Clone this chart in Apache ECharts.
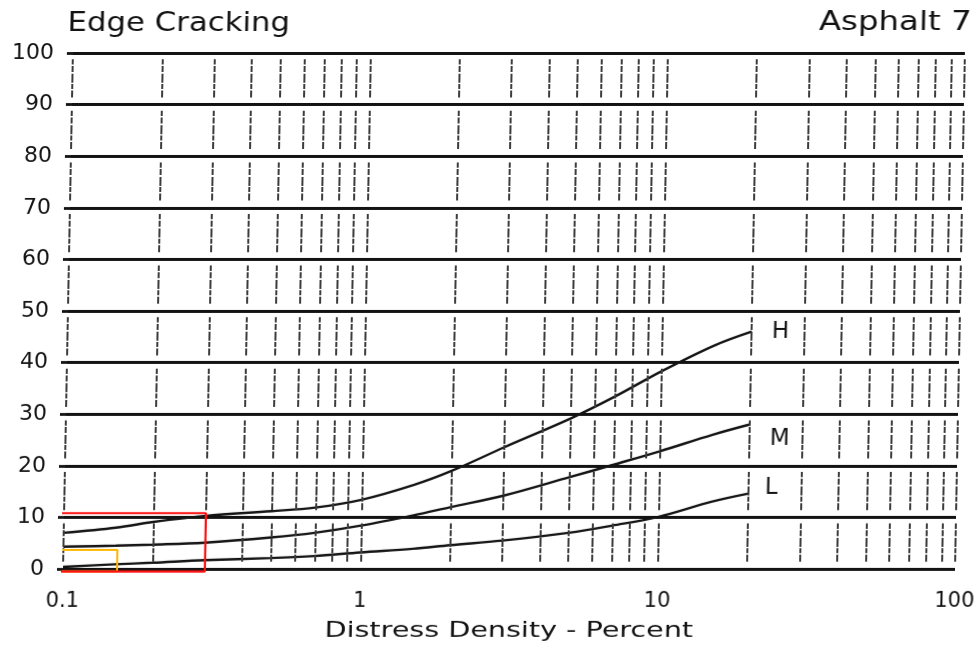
<!DOCTYPE html>
<html>
<head>
<meta charset="utf-8">
<title>Edge Cracking - Asphalt 7</title>
<script src="https://cdn.jsdelivr.net/npm/echarts@6/dist/echarts.min.js"></script>
<style>
  html, body { margin: 0; padding: 0; background: #ffffff; }
  #chart {
    width: 979px;
    height: 650px;
    /* the printed chart sheet leans slightly to the right */
    transform: skewX(-1.1deg);
    transform-origin: 0 569px;
  }
</style>
</head>
<body>
<div id="chart"></div>
<script>
// Distress density (percent) at which each curve is sampled
const density = [0.1, 0.15, 0.2, 0.3, 0.5, 0.7, 1, 1.5, 2, 3, 5, 7, 10, 15, 20];

// Deduct values for each severity level
const deductH = [7.0, 8.0, 9.1, 10.3, 11.2, 11.9, 13.4, 16.3, 19.0, 23.6, 29.2, 33.4, 38.3, 43.3, 46.0];
const deductM = [4.3, 4.5, 4.7, 5.1, 6.1, 7.0, 8.4, 10.4, 12.0, 14.2, 17.8, 20.2, 22.8, 26.0, 28.0];
const deductL = [0.4, 0.9, 1.2, 1.7, 2.1, 2.5, 3.2, 3.9, 4.6, 5.5, 7.0, 8.4, 10.1, 13.0, 14.6];

// Severity labels drawn at the end of each curve
const severityNames = ['H', 'M', 'L'];

// Log-cycle rulings of the density axis
const densityRulings = [
  0.1, 0.2, 0.3, 0.4, 0.5, 0.6, 0.7, 0.8, 0.9,
  1, 2, 3, 4, 5, 6, 7, 8, 9,
  10, 20, 30, 40, 50, 60, 70, 80, 90,
  100
];

// Deduct value bands between the heavy horizontal rules
const bandStarts = [0, 10, 20, 30, 40, 50, 60, 70, 80, 90];

// Axis tick labels
const xTickLabels = ['0.1', '1', '10', '100'];
const yTickLabels = ['0', '10', '20', '30', '40', '50', '60', '70', '80', '90', '100'];

// Highlight frames around the low-density corner
const redFrameX = [0.097, 0.3];
const redFrameY = [-0.5, 10.8];
const orangeFrameX = [0.0905, 0.152];
const orangeFrameY = [-0.5, 3.7];

const FONT = '"DejaVu Sans", "Liberation Sans", sans-serif';
const INK = '#131313';

const GRID = { left: 63, right: 24, top: 53, bottom: 81 };

function pairs(xs, ys) {
  return xs.map((x, i) => [x, ys[i]]);
}

function frame(xs, ys) {
  return [
    [xs[0], ys[0]], [xs[1], ys[0]], [xs[1], ys[1]], [xs[0], ys[1]], [xs[0], ys[0]]
  ];
}

// Each ruling is broken at the heavy deduct rules: one run per band
function rulingSegments() {
  const segs = [];
  densityRulings.forEach(x => {
    bandStarts.forEach(b => {
      segs.push([{ coord: [x, b + 1.4] }, { coord: [x, b + 8.8] }]);
    });
  });
  return segs;
}

function curve(name, values, offset) {
  return {
    name: name,
    type: 'line',
    data: pairs(density, values),
    smooth: 0.35,
    symbol: 'none',
    clip: false,
    z: 3,
    lineStyle: { color: INK, width: 2.4 },
    endLabel: {
      show: true,
      formatter: '{a}',
      distance: 5,
      offset: offset,
      color: INK,
      fontFamily: FONT,
      fontSize: 23,
      fontWeight: 'normal'
    }
  };
}

const chart = echarts.init(document.getElementById('chart'), null, { renderer: 'canvas' });

chart.setOption({
  animation: false,
  backgroundColor: '#ffffff',
  grid: Object.assign({ containLabel: false, outerBoundsMode: 'none' }, GRID),
  xAxis: {
    type: 'log',
    logBase: 10,
    min: 0.1,
    max: 100,
    axisLine: { show: false },
    axisTick: { show: false },
    splitLine: { show: false },
    minorSplitLine: { show: false },
    axisLabel: {
      margin: 22,
      color: INK,
      fontFamily: FONT,
      fontSize: 21,
      formatter: function (v) {
        const idx = Math.round(Math.log10(v)) + 1;
        return xTickLabels[idx];
      }
    }
  },
  yAxis: {
    type: 'value',
    min: 0,
    max: 100,
    interval: 10,
    axisLine: { show: false },
    axisTick: { show: true, length: 6, lineStyle: { color: INK, width: 2.8 } },
    splitLine: { show: true, lineStyle: { color: INK, width: 2.8 } },
    axisLabel: {
      margin: 19,
      color: INK,
      fontFamily: FONT,
      fontSize: 22,
      formatter: function (v) {
        return yTickLabels[Math.round(v / 10)];
      }
    }
  },
  graphic: [
    {
      type: 'text',
      x: 57, y: 24, scaleX: 1.14,
      silent: true,
      style: {
        text: 'Edge Cracking',
        fill: INK,
        font: 'normal 27px ' + FONT,
        textAlign: 'left',
        textVerticalAlign: 'middle'
      }
    },
    {
      type: 'text',
      x: 961, y: 23, scaleX: 1.2,
      silent: true,
      style: {
        text: 'Asphalt 7',
        fill: INK,
        font: 'normal 27px ' + FONT,
        textAlign: 'right',
        textVerticalAlign: 'middle'
      }
    },
    {
      type: 'text',
      x: 510, y: 631, scaleX: 1.3,
      silent: true,
      style: {
        text: 'Distress Density - Percent',
        fill: INK,
        font: 'normal 22px ' + FONT,
        textAlign: 'center',
        textVerticalAlign: 'middle'
      }
    }
  ],
  series: [
    {
      // vertical log-cycle rulings
      name: 'rulings',
      type: 'line',
      data: [],
      silent: true,
      z: 1,
      markLine: {
        silent: true,
        symbol: ['none', 'none'],
        label: { show: false },
        animation: false,
        lineStyle: {
          color: '#3c3c3c',
          width: 2,
          type: [7, 1.5, 5, 1.2, 9, 1.8, 6, 1.4]
        },
        data: rulingSegments()
      }
    },
    curve(severityNames[0], deductH, [15, 0]),
    curve(severityNames[1], deductM, [15, 15]),
    curve(severityNames[2], deductL, [11, -6]),
    {
      name: 'orangeFrame',
      type: 'line',
      data: frame(orangeFrameX, orangeFrameY),
      symbol: 'none',
      clip: false,
      z: 5,
      lineStyle: { color: '#ffb400', width: 2 }
    },
    {
      name: 'redFrame',
      type: 'line',
      data: frame(redFrameX, redFrameY),
      symbol: 'none',
      clip: false,
      z: 6,
      lineStyle: { color: '#ff1010', width: 2.2 }
    }
  ]
});
</script>
</body>
</html>
